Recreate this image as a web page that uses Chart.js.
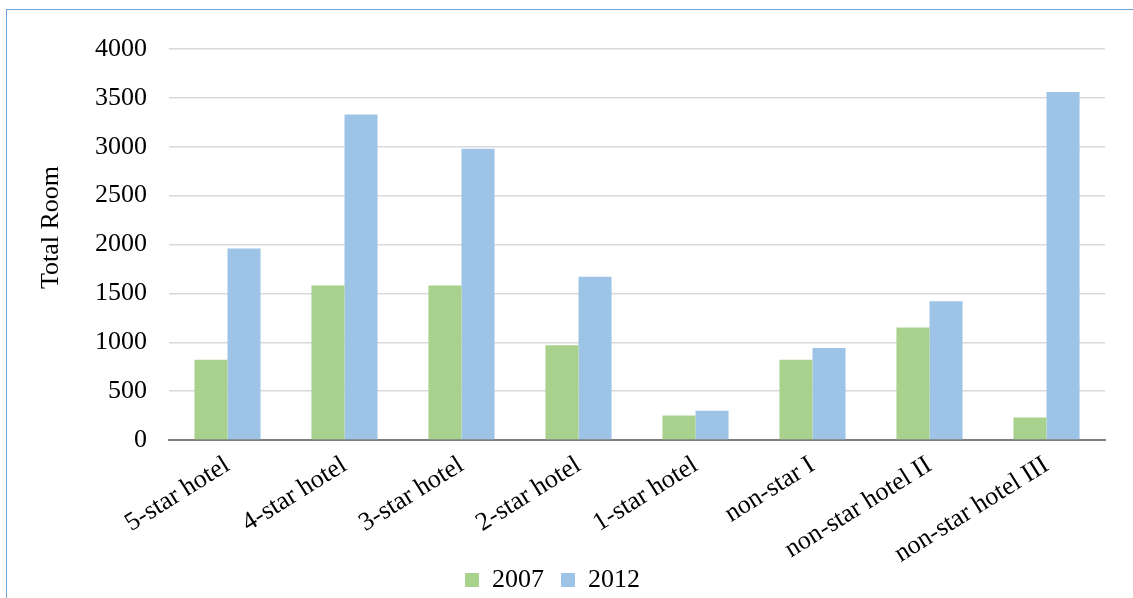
<!DOCTYPE html>
<html>
<head>
<meta charset="utf-8">
<script src="https://cdn.jsdelivr.net/npm/chart.js@4.4.1/dist/chart.umd.min.js"></script>
<style>
  html, body { margin: 0; padding: 0; background: #fff; overflow: hidden; }
  #wrap { position: relative; width: 1133px; height: 598px; }
  #frame {
    position: absolute; left: 6px; top: 9px; width: 1200px; height: 700px;
    border-left: 1.5px solid #6fa3dc; border-top: 1.5px solid #6fa3dc;
  }
  #roomChart { position: absolute; left: 0; top: 0; }
</style>
</head>
<body>
<div id="wrap">
  <div id="frame"></div>
  <canvas id="roomChart" width="1133" height="598"></canvas>
</div>
<script>
const hotelTypes = ['5-star hotel', '4-star hotel', '3-star hotel', '2-star hotel',
    '1-star hotel', 'non-star I', 'non-star hotel II', 'non-star hotel III'];
const rooms2007 = [820, 1580, 1580, 970, 250, 820, 1150, 230];
const rooms2012 = [1960, 3330, 2980, 1670, 300, 940, 1420, 3560];

const serif = 'Liberation Serif, Times New Roman, serif';

// long rotated category names run below the x box, so open its clip down to
// the canvas edge; the y title sits a little above the middle of the axis
const layoutTweaks = {
    id: 'layoutTweaks',
    beforeDraw(chart) {
        const area = chart.chartArea;
        chart.scales.x.bottom = chart.height;
        chart.scales.y.top = area.top - 17;
        chart.scales.y.bottom = area.bottom - 17;
    }
};

document.addEventListener('DOMContentLoaded', () => {
    const ctx = document.getElementById('roomChart').getContext('2d');

    new Chart(ctx, {
        type: 'bar',
        data: {
            labels: hotelTypes,
            datasets: [{
                label: '2007',
                data: rooms2007,
                backgroundColor: '#a9d18e',
                categoryPercentage: 0.565,
                barPercentage: 1.0,
                clip: false
            }, {
                label: '2012',
                data: rooms2012,
                backgroundColor: '#9dc3e6',
                categoryPercentage: 0.565,
                barPercentage: 1.0,
                clip: false
            }]
        },
        plugins: [layoutTweaks],
        options: {
            responsive: false,
            animation: false,
            layout: {
                padding: { left: 0, right: 28, top: 49, bottom: 0 }
            },
            plugins: {
                legend: {
                    position: 'bottom',
                    maxHeight: 48,
                    labels: {
                        color: '#000',
                        font: { family: serif, size: 26 },
                        boxWidth: 14,
                        boxHeight: 14,
                        padding: 17
                    }
                },
                tooltip: { enabled: false }
            },
            scales: {
                x: {
                    grid: { display: false },
                    border: { display: true, color: '#7f7f7f', width: 2 },
                    ticks: {
                        color: '#000',
                        font: { family: serif, size: 26 },
                        minRotation: 32,
                        maxRotation: 32,
                        padding: 2
                    },
                    afterFit: scale => { scale.height = 110; }
                },
                y: {
                    min: 0,
                    max: 4000,
                    ticks: {
                        stepSize: 500,
                        color: '#000',
                        font: { family: serif, size: 26 },
                        padding: 22,
                        callback: value => String(value)
                    },
                    grid: { color: '#d9d9d9', lineWidth: 1.5, drawTicks: false },
                    border: { display: false },
                    title: {
                        display: true,
                        text: 'Total Room',
                        color: '#000',
                        font: { family: serif, size: 26 },
                        padding: { top: 36, bottom: 0 }
                    },
                    afterFit: scale => { scale.width = 169; }
                }
            }
        }
    });
});
</script>
</body>
</html>
